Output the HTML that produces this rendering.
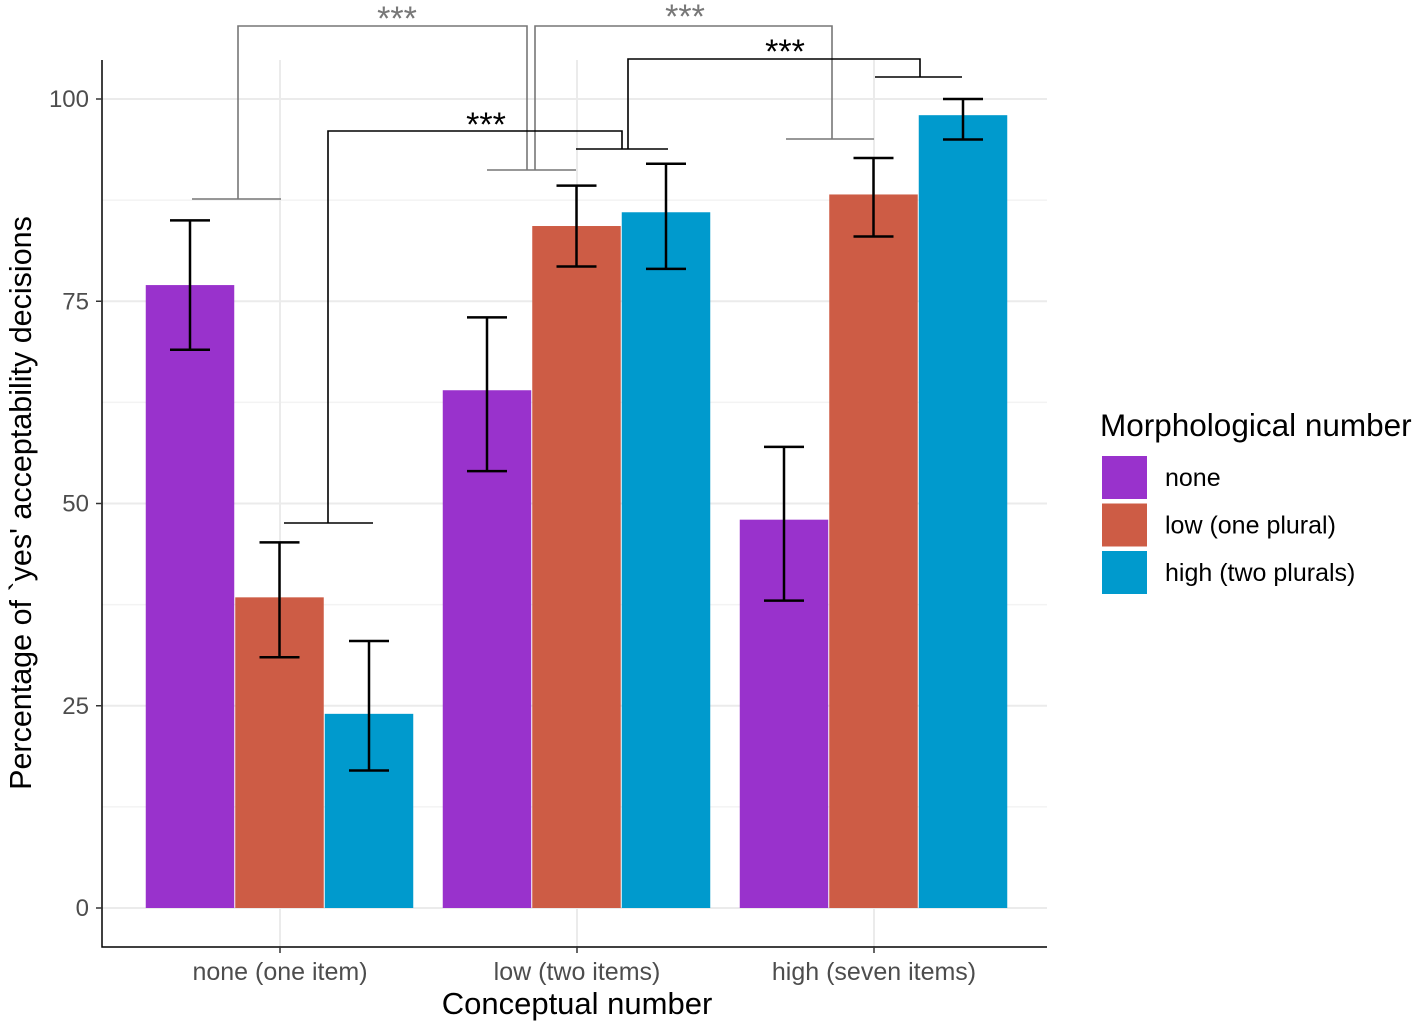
<!DOCTYPE html>
<html><head><meta charset="utf-8"><style>
body{margin:0;background:#fff}
text{font-family:"Liberation Sans",Arial,sans-serif}
</style></head><body>
<svg id="chart" width="1417" height="1026" viewBox="0 0 1417 1026" xmlns="http://www.w3.org/2000/svg">
<g id="grid"></g>
<g id="bars"></g>
<g id="errs"></g>
<g id="brackets" fill="none" stroke-width="1.6">
<path stroke="#777" d="M192 199H281M238 199V26H527V170M487 170H576"/>
<path stroke="#777" d="M535 170V26H832V139M786 139H874"/>
<path stroke="#000" d="M284 523H373M328 523V131H622V149M576 149H668"/>
<path stroke="#000" d="M628 149V59H920V77M875 77H962"/>
</g>
<text x="397" y="30" font-size="34" fill="#777" text-anchor="middle">***</text>
<text x="685" y="28" font-size="34" fill="#777" text-anchor="middle">***</text>
<text x="486" y="136" font-size="34" fill="#000" text-anchor="middle">***</text>
<text x="785" y="63" font-size="34" fill="#000" text-anchor="middle">***</text>
<g id="axes"></g>
<text x="577" y="1014" font-size="31" text-anchor="middle" fill="#000">Conceptual number</text>
<text transform="translate(31,503) rotate(-90)" font-size="30.5" text-anchor="middle" fill="#000">Percentage of `yes' acceptability decisions</text>
<g id="legend">
<text x="1100" y="436" font-size="31.5">Morphological number</text>
</g>
</svg>
<script>
const categories=["none (one item)","low (two items)","high (seven items)"];
const seriesNames=["none","low (one plural)","high (two plurals)"];
const colors=["#9932CC","#CD5C45","#009ACD"];
const valsNone=[77,64,48];
const valsLow=[38.4,84.3,88.2];
const valsHigh=[24,86,98];
const lowNone=[69,54,38],hiNone=[85,73,57];
const lowLow=[31,79.3,83],hiLow=[45.2,89.3,92.7];
const lowHigh=[17,79,95],hiHigh=[33,92,100];
const yTicks=[0,25,50,75,100];
const NS="http://www.w3.org/2000/svg";
const y=v=>908-v*8.09;
const xc=i=>280+i*297;
const bw=89.5;
function mk(t,a,p){const e=document.createElementNS(NS,t);for(const k in a)e.setAttribute(k,a[k]);p.appendChild(e);return e;}
const grid=document.getElementById('grid');
for(let k=0;k<yTicks.length;k++){
 const l=mk('line',{x1:102,x2:1047,y1:y(yTicks[k]),y2:y(yTicks[k]),stroke:'#ebebeb','stroke-width':2},grid);
 
 if(k<yTicks.length-1){const m=mk('line',{x1:102,x2:1047,y1:y((yTicks[k]+yTicks[k+1])/2),y2:y((yTicks[k]+yTicks[k+1])/2),stroke:'#f3f3f3','stroke-width':1.5},grid);
 }
}
categories.forEach((c,i)=>{const l=mk('line',{x1:xc(i),x2:xc(i),y1:60,y2:947,stroke:'#ebebeb','stroke-width':2},grid);
 });
const vals=[valsNone,valsLow,valsHigh],lo=[lowNone,lowLow,lowHigh],hi=[hiNone,hiLow,hiHigh];
const bars=document.getElementById('bars'),errs=document.getElementById('errs');
for(let s=0;s<3;s++)for(let i=0;i<3;i++){
 const cx=xc(i)+(s-1)*bw;
 const r=mk('rect',{x:cx-bw/2,y:y(vals[s][i]),width:bw-1,height:y(0)-y(vals[s][i]),fill:colors[s]},bars);
 
 const m=cx-0.5;
 const p=mk('path',{d:`M${m-20} ${y(lo[s][i])}H${m+20}M${m} ${y(lo[s][i])}V${y(hi[s][i])}M${m-20} ${y(hi[s][i])}H${m+20}`,stroke:'#000','stroke-width':2.5,fill:'none'},errs);
 
}
const ax=document.getElementById('axes');
const a1=mk('path',{d:'M102 60V947H1047',stroke:'#000','stroke-width':1.5,fill:'none'},ax);

yTicks.forEach(t=>{
 const tk=mk('line',{x1:96,x2:102,y1:y(t),y2:y(t),stroke:'#333','stroke-width':1.5},ax);
 
 const tx=mk('text',{x:89,y:y(t)+8,'font-size':24,'text-anchor':'end',fill:'#4d4d4d'},ax);tx.textContent=t;
 
});
categories.forEach((c,i)=>{
 const tk=mk('line',{x1:xc(i),x2:xc(i),y1:947,y2:953,stroke:'#333','stroke-width':1.5},ax);
 
 const tx=mk('text',{x:xc(i),y:980,'font-size':25,'text-anchor':'middle',fill:'#4d4d4d'},ax);tx.textContent=c;
 
});
const lg=document.getElementById('legend');
seriesNames.forEach((n,s)=>{
 const r=mk('rect',{x:1102,y:456+s*47.5,width:45,height:43,fill:colors[s]},lg);
 
 const t=mk('text',{x:1165,y:486+s*47.5,'font-size':25,fill:'#000'},lg);t.textContent=n;
 
});
</script>
</body></html>
